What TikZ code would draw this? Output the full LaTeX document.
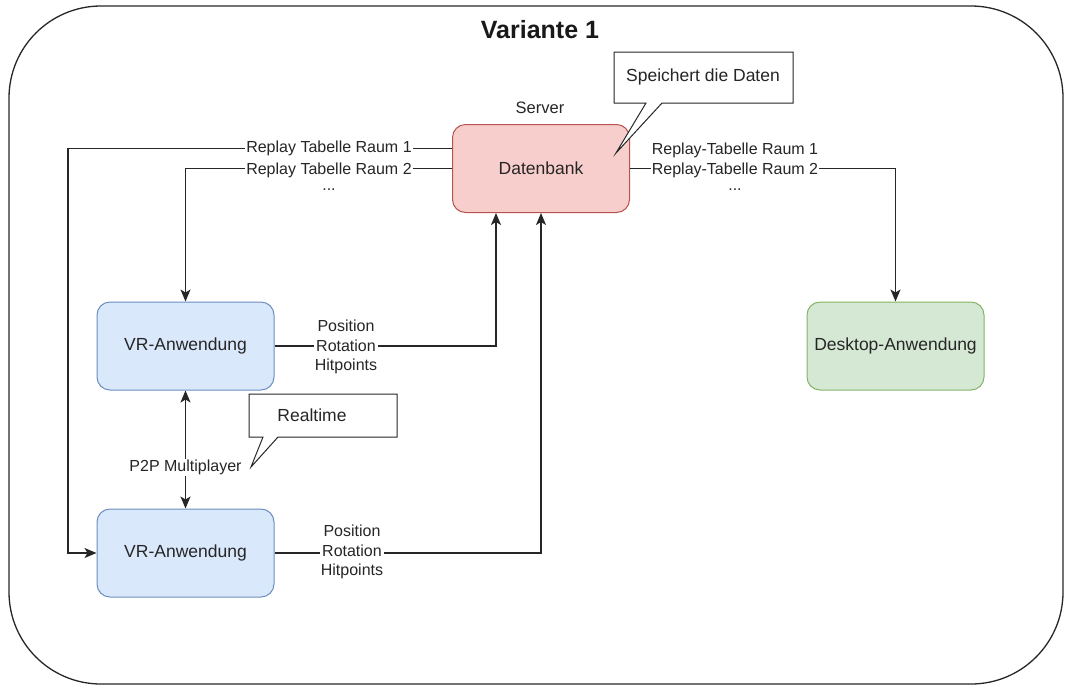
\documentclass[tikz,border=0pt]{standalone}
\usepackage{fontspec}
\setmainfont{Liberation Sans}
\usetikzlibrary{arrows.meta}

\definecolor{dbfill}{HTML}{F8CECC}
\definecolor{dbdraw}{HTML}{B85450}
\definecolor{vrfill}{HTML}{DAE8FC}
\definecolor{vrdraw}{HTML}{6C8EBF}
\definecolor{dtfill}{HTML}{D5E8D4}
\definecolor{dtdraw}{HTML}{82B366}
\definecolor{txt}{HTML}{262626}

\tikzset{
  BoxStyle/.style={rounded corners=13pt,minimum width=177pt,minimum height=88pt,
    line width=1pt,text=txt,font=\fontsize{17.5}{20}\selectfont},
  EdgeStyle/.style={line width=1.4pt,draw=black!85,-{Stealth[length=12pt,width=10pt,inset=3pt]}},
  LabelStyle/.style={fill=white,inner sep=1pt,text=txt,font=\fontsize{16}{19.5}\selectfont,align=center},
  CalloutStyle/.style={line width=1pt,draw=black!85,fill=white}
}

\begin{document}
\begin{tikzpicture}[x=1pt,y=-1pt]
\useasboundingbox (0,0) rectangle (1065,686);

% frame
\draw[line width=1.3pt,draw=black!85,rounded corners=92pt] (9,6) rectangle (1063,684);
\node[font=\fontsize{25}{28}\selectfont\bfseries,text=black!90] (title) at (540,30) {Variante 1};

% boxes
\node[BoxStyle,fill=dbfill,draw=dbdraw] (db) at (541,168.5) {Datenbank};
\node[text=txt,font=\fontsize{16.5}{19}\selectfont] (server) at (540,108) {Server};
\node[BoxStyle,fill=vrfill,draw=vrdraw] (vr1) at (185.5,346) {VR-Anwendung};
\node[BoxStyle,fill=vrfill,draw=vrdraw] (vr2) at (185.5,553) {VR-Anwendung};
\node[BoxStyle,fill=dtfill,draw=dtdraw] (desk) at (895.5,346) {Desktop-Anwendung};

% edges
\coordinate (lft) at (68,350);
\draw[EdgeStyle] ([yshift=20pt]db.west) -| (lft) |- (vr2.west);
\draw[EdgeStyle] (db.west) -| (vr1.north);
\draw[EdgeStyle] (db.east) -| (desk.north);
\draw[EdgeStyle] (vr1.east) -| ([xshift=-45pt]db.south);
\draw[EdgeStyle] (vr2.east) -| (db.south);
\draw[EdgeStyle,{Stealth[length=12pt,width=10pt,inset=3pt]}-{Stealth[length=12pt,width=10pt,inset=3pt]}]
  (vr1.south) -- (vr2.north) node[LabelStyle,pos=0.65] (p2p) {P2P Multiplayer};

% edge labels
\node[LabelStyle] (rl1) at (329,148) {Replay Tabelle Raum 1};
\node[LabelStyle] (rl2) at (329,170) {Replay Tabelle Raum 2};
\node[LabelStyle] (rl3) at (329,190) {...};
\node[LabelStyle] (rr1) at (735,150) {Replay-Tabelle Raum 1};
\node[LabelStyle] (rr2) at (735,170) {Replay-Tabelle Raum 2};
\node[LabelStyle] (rr3) at (735,190) {...};
\node[LabelStyle] (pos1) at (346,347) {Position\\Rotation\\Hitpoints};
\node[LabelStyle] (pos2) at (352,552) {Position\\Rotation\\Hitpoints};

% callouts
\draw[CalloutStyle] (614,52) -- (793,52) -- (793,103) -- (662,103) -- (616,153)
  -- (646,103) -- (614,103) -- cycle;
\node[text=txt,font=\fontsize{17.5}{20}\selectfont] (save) at (703,77) {Speichert die Daten};
\draw[CalloutStyle] (249,394) -- (397,394) -- (397,437) -- (278,437) -- (251,467)
  -- (263,437) -- (249,437) -- cycle;
\node[text=txt,font=\fontsize{17.5}{20}\selectfont] (rt) at (312,415) {Realtime};
\end{tikzpicture}
\end{document}
